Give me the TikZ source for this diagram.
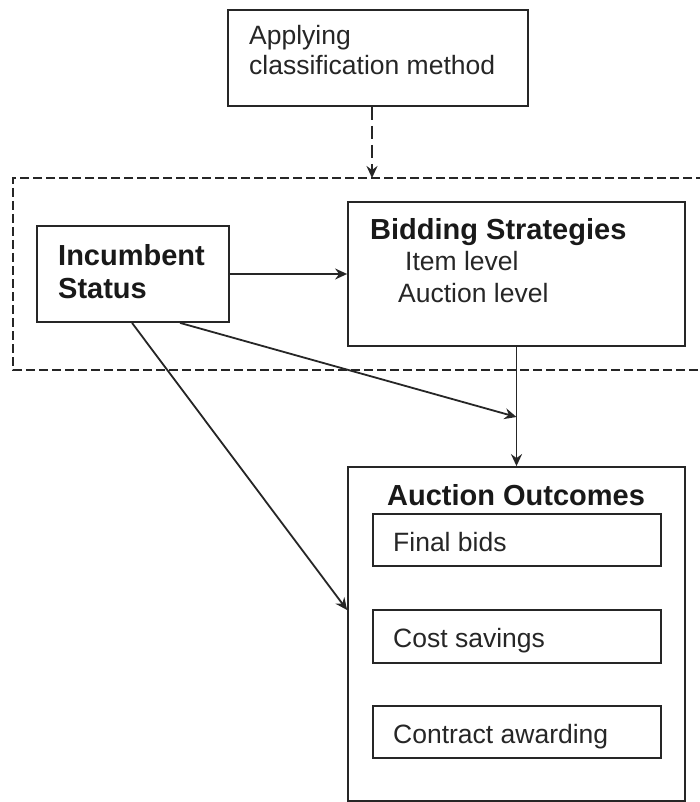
\documentclass[tikz,border=0pt]{standalone}
\usepackage{fontspec}
\setmainfont{Liberation Sans}
\usetikzlibrary{arrows.meta}
\begin{document}
\begin{tikzpicture}[x=1pt,y=-1pt,
  box/.style={draw=black!85,line width=1.8pt,inner sep=0pt,rectangle},
  lbl/.style={anchor=base west,inner sep=0pt,text=black!85,font=\fontsize{26.5}{30}\selectfont},
  blbl/.style={anchor=base west,inner sep=0pt,text=black!90,font=\fontsize{29}{33}\selectfont\bfseries},
  conn/.style={draw=black!85,line width=1.8pt,-{Stealth[length=12pt,width=11pt,inset=4pt]}},
  grp/.style={draw=black!85,line width=1.8pt,dash pattern=on 9pt off 4pt}
]
\useasboundingbox[fill=white] (0,0) rectangle (699,802);
% dashed group
\draw[grp] (705,178) -- (13,178) -- (13,370) -- (705,370);
% boxes
\node[box,minimum width=300pt,minimum height=96pt] (top) at (378,58) {};
\node[box,minimum width=192pt,minimum height=96pt] (inc) at (133,274) {};
\node[box,minimum width=337pt,minimum height=144pt] (bid) at (516.5,274) {};
\node[box,minimum width=337pt,minimum height=334pt] (ao) at (516.5,634) {};
\node[box,minimum width=288pt,minimum height=52pt] (fb) at (517,540) {};
\node[box,minimum width=288pt,minimum height=53pt] (cs) at (517,636.5) {};
\node[box,minimum width=288pt,minimum height=52pt] (ca) at (517,732) {};
% texts
\node[lbl] (t1) at (249,45) {Applying};
\node[lbl] (t2) at (249,75) {classification method};
\node[blbl] (i1) at (58,265) {Incumbent};
\node[blbl] (i2) at (58,298) {Status};
\node[blbl] (b1) at (370,240) {Bidding Strategies};
\node[lbl] (b2) at (405,270) {Item level};
\node[lbl] (b3) at (398,302) {Auction level};
\node[blbl] (a1) at (387,505) {Auction Outcomes};
\node[lbl] (f1) at (393,551) {Final bids};
\node[lbl] (c1) at (393,647) {Cost savings};
\node[lbl] (c2) at (393,743) {Contract awarding};
% connectors
\coordinate (grptop) at (372,178);
\coordinate (join) at (516.5,417);
\draw[conn,dash pattern=on 13pt off 6pt] (top.south -| grptop) -- (grptop);
\draw[conn] (inc.east) -- (inc.east -| bid.west);
\draw[draw=black!85,line width=1.8pt] (bid.south) -- (join);
\draw[conn] (join) -- (ao.north);
\draw[conn] ([xshift=47pt]inc.south) -- (join);
\draw[conn] ([xshift=-1pt]inc.south) -- ([yshift=24pt]ao.west);
\end{tikzpicture}
\end{document}
